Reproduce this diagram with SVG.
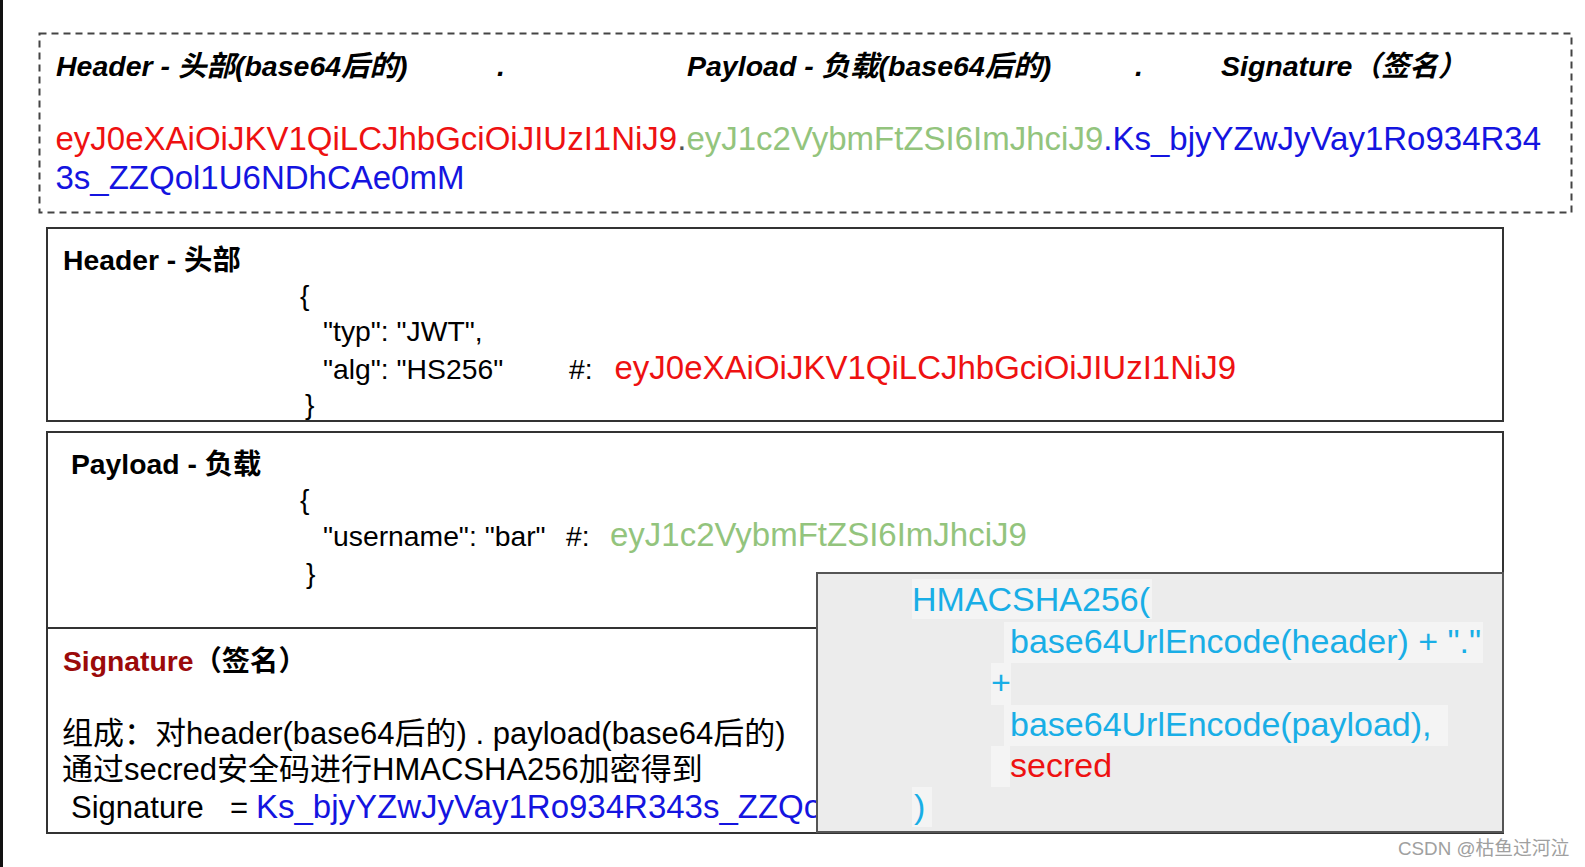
<svg xmlns="http://www.w3.org/2000/svg" width="1585" height="867" viewBox="0 0 1585 867">
<style>
.t{font-family:"Liberation Sans","Noto Sans CJK SC",Arial,sans-serif;}
.hd{font-size:28.5px;font-weight:bold;font-style:italic;fill:#000;}
.tok{font-size:33px;}
.b{font-size:28.3px;font-weight:bold;fill:#000;}
.j{font-size:28.3px;fill:#000;}
.s{font-size:31px;fill:#000;}
.c{font-size:34px;fill:#19aee6;}
.red{fill:#ee1111;}
.grn{fill:#93c47d;}
.blu{fill:#1414e0;}
.box{fill:#fff;stroke:#333;stroke-width:2;}
.hl{fill:#f4f4f4;}
</style>
<defs>
<clipPath id="sigclip"><rect x="47" y="628" width="770" height="205"/></clipPath>
</defs>
<rect x="0" y="0" width="1585" height="867" fill="#fff"/>
<line x1="1.5" y1="0" x2="1.5" y2="867" stroke="#111" stroke-width="3"/>

<g id="jwt-token">
<rect x="39.5" y="33.5" width="1532" height="179" fill="none" stroke="#444" stroke-width="2" stroke-dasharray="7,5"/>
<text class="t hd" x="56" y="76">Header - 头部(base64后的)</text>
<text class="t hd" x="497" y="76">.</text>
<text class="t hd" x="687" y="76">Payload - 负载(base64后的)</text>
<text class="t hd" x="1135" y="76">.</text>
<text class="t hd" x="1221" y="76">Signature（签名）</text>
<text class="t tok" x="55.5" y="150"><tspan class="red">eyJ0eXAiOiJKV1QiLCJhbGciOiJIUzI1NiJ9</tspan><tspan fill="#555">.</tspan><tspan class="grn">eyJ1c2VybmFtZSI6ImJhciJ9</tspan><tspan class="blu">.Ks_bjyYZwJyVay1Ro934R34</tspan></text>
<text class="t tok blu" x="55.5" y="189">3s_ZZQol1U6NDhCAe0mM</text>
</g>

<g id="header-box">
<rect class="box" x="47" y="228" width="1456" height="193"/>
<text class="t b" x="63" y="270">Header - 头部</text>
<text class="t j" x="300" y="305">{</text>
<text class="t j" x="323" y="341">"typ": "JWT",</text>
<text class="t j" x="323" y="379">"alg": "HS256"</text>
<text class="t j" x="569" y="379">#:</text>
<text class="t tok red" x="614.5" y="379">eyJ0eXAiOiJKV1QiLCJhbGciOiJIUzI1NiJ9</text>
<text class="t j" x="305" y="414">}</text>
</g>

<g id="payload-box">
<rect class="box" x="47" y="432" width="1456" height="196"/>
<text class="t b" x="71" y="474">Payload - 负载</text>
<text class="t j" x="300" y="509">{</text>
<text class="t j" x="323" y="546">"username": "bar"</text>
<text class="t j" x="566" y="546">#:</text>
<text class="t tok grn" x="610" y="546">eyJ1c2VybmFtZSI6ImJhciJ9</text>
<text class="t j" x="306" y="583">}</text>
</g>

<g id="signature-box">
<rect class="box" x="47" y="628" width="1456" height="205"/>
<text class="t b" x="63" y="671" font-size="29.5"><tspan fill="#9b0a0a">Signature</tspan>（签名）</text>
<text class="t s" x="62" y="744">组成：对header(base64后的) . payload(base64后的)</text>
<text class="t s" x="62" y="780">通过secred安全码进行HMACSHA256加密得到</text>
<g clip-path="url(#sigclip)">
<text class="t s" x="71" y="818">Signature</text>
<text class="t s" x="230" y="818">=</text>
<text class="t blu" x="256" y="818" font-size="33">Ks_bjyYZwJyVay1Ro934R343s_ZZQo</text>
</g>
</g>

<g id="hmac-box">
<rect x="817" y="573" width="686" height="259" fill="#ececec" stroke="#555" stroke-width="2"/>
<rect class="hl" x="912" y="579" width="240" height="40"/>
<rect class="hl" x="1004" y="622" width="479" height="41"/>
<rect class="hl" x="991" y="663" width="20" height="42"/>
<rect class="hl" x="1004" y="705" width="444" height="41"/>
<rect class="hl" x="991" y="746" width="19" height="41"/>
<rect class="hl" x="912" y="787" width="20" height="40"/>
<text class="t c" x="912" y="611">HMACSHA256(</text>
<text class="t c" x="1010" y="653">base64UrlEncode(header) + "."</text>
<text class="t c" x="991" y="694">+</text>
<text class="t c" x="1010" y="736">base64UrlEncode(payload),</text>
<text class="t c red" x="1010" y="777">secred</text>
<text class="t c" x="914" y="818">)</text>
</g>

<text class="t" x="1398" y="855" font-size="18.8" fill="#a0a0a0">CSDN @枯鱼过河泣</text>
</svg>
